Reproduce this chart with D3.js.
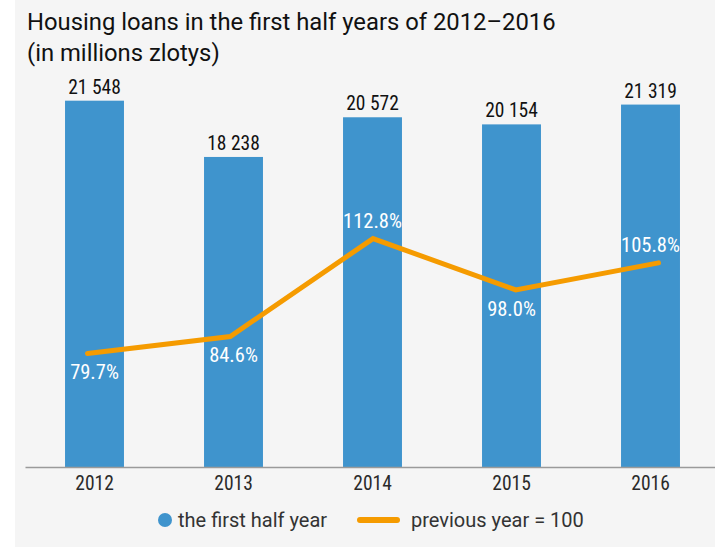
<!DOCTYPE html>
<html>
<head>
<meta charset="utf-8">
<script src="https://cdn.jsdelivr.net/npm/d3@7"></script>
<style>
  body { margin: 0; background: #fff; }
  svg { display: block; }
</style>
</head>
<body>
<script>
// Housing loans, first half of each year (PLN million) and index vs previous year
const years = ["2012", "2013", "2014", "2015", "2016"];
const loans = [21548, 18238, 20572, 20154, 21319];
const growth = [79.7, 84.6, 112.8, 98.0, 105.8];
const growthLabelSide = ["below", "below", "above", "below", "above"];
const titleLines = ["Housing loans in the first half years of 2012\u20132016", "(in millions zlotys)"];
const legendLabels = ["the first half year", "previous year = 100"];

const W = 715, H = 547;
const barColor = "#3f94cd";
const lineColor = "#f59b00";
const textFont = "Roboto, 'Noto Sans', sans-serif";
const numFont = "'Liberation Sans Narrow', 'Roboto Condensed', 'DejaVu Sans Condensed', sans-serif";

const plLocale = d3.formatLocale({ decimal: ".", thousands: "\u00a0", grouping: [3], currency: ["", ""] });
const fmtLoan = plLocale.format(",d");
const fmtPct = v => d3.format(".1f")(v) + "%";

const svg = d3.select("body").append("svg")
  .attr("width", W).attr("height", H);

svg.append("rect")
  .attr("x", 15).attr("y", 0)
  .attr("width", W - 15).attr("height", H)
  .attr("fill", "#f5f5f5");

// Title
svg.append("g").selectAll("text").data(titleLines).join("text")
  .attr("x", 27)
  .attr("y", (d, i) => 30 + i * 31)
  .attr("font-family", textFont)
  .attr("font-size", 23.8)
  .attr("fill", "#111")
  .text(d => d);

// Scales
const x = d3.scaleBand().domain(years).range([25, 720])
  .paddingInner(0.576).paddingOuter(0.288);
const xLine = d3.scalePoint().domain(years).range([87.5, 658.5]);
const y = d3.scaleLinear().domain([0, 25000]).range([467, 42]);
const yIdx = d3.scaleLinear().domain([47, 170]).range([467, 40]);

const rows = years.map((yr, i) => ({ yr, loan: loans[i], idx: growth[i], side: growthLabelSide[i] }));

// Bars
svg.append("g").selectAll("rect").data(rows).join("rect")
  .attr("x", d => x(d.yr))
  .attr("y", d => y(d.loan))
  .attr("width", x.bandwidth())
  .attr("height", d => y(0) - y(d.loan))
  .attr("fill", barColor);

// Bar value labels
svg.append("g").selectAll("text").data(rows).join("text")
  .attr("x", d => x(d.yr) + x.bandwidth() / 2)
  .attr("y", d => y(d.loan) - 7)
  .attr("text-anchor", "middle")
  .attr("font-family", numFont)
  .attr("font-size", 19.5)
  .attr("fill", "#111")
  .text(d => fmtLoan(d.loan));

// Axis
const axis = svg.append("g")
  .attr("transform", `translate(0,${y(0)})`)
  .call(d3.axisBottom(x).tickSize(0).tickSizeOuter(0).tickPadding(9));
axis.select(".domain").attr("stroke", "#9a9a9a").attr("stroke-width", 1.5);
axis.selectAll("text")
  .attr("font-family", numFont)
  .attr("font-size", 19.5)
  .attr("fill", "#2a2a2a");

// Index line
const line = d3.line().x(d => xLine(d.yr)).y(d => yIdx(d.idx));
svg.append("path")
  .datum(rows)
  .attr("d", line)
  .attr("fill", "none")
  .attr("stroke", lineColor)
  .attr("stroke-width", 5)
  .attr("stroke-linecap", "round")
  .attr("stroke-linejoin", "miter");

// Index labels
svg.append("g").selectAll("text").data(rows).join("text")
  .attr("x", d => x(d.yr) + x.bandwidth() / 2)
  .attr("y", d => yIdx(d.idx) + (d.side === "below" ? 26 : -10.5))
  .attr("text-anchor", "middle")
  .attr("font-family", numFont)
  .attr("font-size", 20.5)
  .attr("fill", "#fff")
  .text(d => fmtPct(d.idx));

// Legend
const lg = svg.append("g").attr("font-family", textFont).attr("font-size", 20).attr("fill", "#333");
lg.append("circle").attr("cx", 165).attr("cy", 520).attr("r", 7).attr("fill", barColor);
lg.append("text").attr("x", 178).attr("y", 527).text(legendLabels[0]);
lg.append("line")
  .attr("x1", 360).attr("x2", 397).attr("y1", 520).attr("y2", 520)
  .attr("stroke", lineColor).attr("stroke-width", 6).attr("stroke-linecap", "round");
lg.append("text").attr("x", 411).attr("y", 527).text(legendLabels[1]);
</script>
</body>
</html>
